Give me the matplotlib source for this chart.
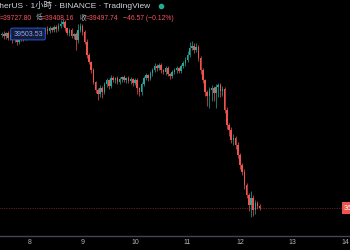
import numpy as np
import matplotlib.pyplot as plt
from matplotlib.lines import Line2D

plt.rcParams['font.family'] = ['Liberation Sans', 'Noto Sans CJK TC']

# hourly BTC/USDT candles, 7th 11:00 -> 12th 09:00
first_open = 39480
close = [39500, 39460, 39520, 39420, 39480, 39380, 39440, 39340, 39400, 39460, 39420, 39480, 39520,
         39460, 39540, 39500, 39580, 39520, 39460, 39540, 39600, 39560, 39620,
         39580, 39640, 39600, 39660, 39700,
         39740, 39620, 39520, 39580, 39460, 39500,
         39380, 39580, 39660, 39540,
         39340, 39080, 38940, 38780, 38540, 38380, 38300,
         38420, 38340, 38500, 38580, 38460, 38620,
         38580, 38620, 38540, 38600, 38640, 38580, 38620, 38560, 38600, 38520, 38580,
         38420, 38340, 38500, 38620, 38680,
         38620, 38720, 38780, 38860, 38820, 38880,
         38780, 38740, 38820, 38700, 38660, 38740, 38780, 38820,
         38760, 38860, 38920, 38980, 39080, 39220,
         39260, 39180, 39240, 39020, 38780,
         38580, 38340, 38260, 38380,
         38420, 38320, 38440, 38480, 38360, 38400,
         37980, 37680, 37580, 37380,
         37420, 37280, 37080, 36880,
         36740, 36480, 36280, 36080,
         36220, 35980, 36120, 36060, 36020]
wick_hi = [40, 60, 30, 50, 40, 30, 60, 40, 50, 30, 40, 60, 40,
           50, 40, 30, 60, 40, 30, 50, 40, 60, 40,
           30, 50, 40, 60, 80,
           60, 40, 30, 40, 50, 30,
           40, 120, 60, 40,
           40, 60, 40, 30, 40, 30, 40,
           60, 40, 50, 40, 30, 60,
           40, 30, 50, 40, 30, 40, 30, 50, 40, 30, 40,
           40, 30, 40, 50, 40,
           30, 50, 40, 60, 40, 50,
           40, 30, 50, 40, 30, 40, 50, 40,
           30, 50, 40, 60, 80, 120,
           100, 60, 80, 40, 40,
           40, 30, 40, 60,
           60, 40, 60, 50, 40, 60,
           40, 60, 40, 60,
           80, 40, 60, 40,
           40, 60, 40, 40,
           140, 60, 60, 40, 40]
wick_lo = [40, 50, 60, 40, 30, 60, 40, 50, 30, 40, 50, 40, 30,
           40, 30, 50, 40, 60, 40, 30, 40, 50, 30,
           40, 30, 50, 40, 30,
           40, 60, 40, 50, 30, 60,
           200, 60, 40, 60,
           40, 60, 40, 60, 40, 60, 120,
           60, 120, 40, 50, 60, 40,
           40, 50, 30, 40, 50, 40, 60, 40, 50, 60, 40,
           120, 80, 60, 40, 30,
           50, 40, 60, 40, 50, 40,
           60, 40, 50, 40, 60, 40, 30, 50,
           40, 30, 40, 50, 40, 30,
           40, 60, 40, 60, 80,
           60, 80, 200, 240,
           220, 160, 300, 200, 120, 100,
           60, 80, 120, 60,
           100, 80, 60, 80,
           60, 80, 60, 120,
           240, 120, 80, 60, 40]

start_day = 7 + 11 / 24
tick_days = [8, 9, 10, 11, 12, 13, 14]
tick_labels = ["8", "9", "10", "11", "12", "13", "14"]

up_col = '#26a69a'
dn_col = '#ef5350'
bg = '#000000'

close = np.array(close, dtype=float)
opens = np.concatenate([[first_open], close[:-1]])
highs = np.maximum(opens, close) + np.array(wick_hi)
lows = np.minimum(opens, close) - np.array(wick_lo)
x = start_day + np.arange(len(close)) / 24

fig = plt.figure(figsize=(3.5, 2.5), dpi=100, facecolor=bg)
ax = fig.add_axes([0, 0.056, 1, 0.944])
ax.set_facecolor(bg)

cols = np.where(close >= opens, up_col, dn_col)
ax.vlines(x, lows, highs, colors=cols, linewidth=0.5)
body_lo = np.minimum(opens, close)
body_h = np.maximum(np.abs(close - opens), 8)
ax.bar(x, body_h, bottom=body_lo, width=0.7 / 24, color=cols, linewidth=0)

# last price line
ax.axhline(close[-1], color=dn_col, linewidth=0.5, linestyle=(0, (1, 1.5)), alpha=0.7)

ax.set_xlim(8 - 30 / 52.5, 8 + 320 / 52.5)
ax.set_ylim(40180 - 20 * 236, 40180)

ax.set_xticks(tick_days)
ax.set_xticklabels(tick_labels)
ax.tick_params(axis='x', length=0, pad=2.5, labelsize=5, colors='#b2b5be')
ax.set_yticks([])
for s in ['top', 'left', 'right']:
    ax.spines[s].set_visible(False)
ax.spines['bottom'].set_color('#434651')
ax.spines['bottom'].set_linewidth(1)

# header
H = 250.0
W = 350.0
fig.text(-12 / W, 1 - 6 / H, "TetherUS · 1小時 · BINANCE · TradingView",
         fontsize=6, color='#d1d4dc', va='center', ha='left')
fig.add_artist(Line2D([161 / W], [1 - 6 / H], marker='o', markersize=3,
                      color='#22ab94', transform=fig.transFigure))
red_txt = '#f7525f'
grey_txt = '#b2b5be'
fs2 = 4.85
fig.text(-6 / W, 1 - 18 / H, "高", fontsize=fs2, color=grey_txt, va='center')
fig.text(0 / W, 1 - 18 / H, "=39727.80", fontsize=fs2, color=red_txt, va='center')
fig.text(36 / W, 1 - 18 / H, "低", fontsize=fs2, color=grey_txt, va='center')
fig.text(42 / W, 1 - 18 / H, "=39408.16", fontsize=fs2, color=red_txt, va='center')
fig.text(80 / W, 1 - 18 / H, "收", fontsize=fs2, color=grey_txt, va='center')
fig.text(86 / W, 1 - 18 / H, "=39497.74", fontsize=fs2, color=red_txt, va='center')
fig.text(123 / W, 1 - 18 / H, "−46.57 (−0.12%)", fontsize=fs2, color=red_txt, va='center')

# hover price label
fig.text(28 / W, 1 - 34 / H, "39503.53", fontsize=5, color='#8fa8ff', va='center', ha='center',
         bbox=dict(boxstyle='round,pad=0.35,rounding_size=0.2', facecolor='#141c36',
                   edgecolor='#2962ff', linewidth=0.6))

# last price label at right edge
fig.text(344 / W, 1 - 208 / H, "36020.00", fontsize=5, color='white', va='center', ha='left',
         bbox=dict(boxstyle='square,pad=0.3', facecolor=dn_col, edgecolor='none'))

fig.savefig('out.png', dpi=100, facecolor=bg)
